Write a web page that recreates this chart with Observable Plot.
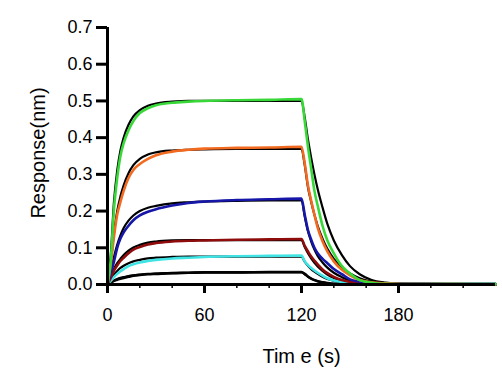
<!DOCTYPE html>
<html>
<head>
<meta charset="utf-8">
<script src="https://cdn.jsdelivr.net/npm/d3@7"></script>
<script src="https://cdn.jsdelivr.net/npm/@observablehq/plot@0.6"></script>
<style>
  html, body { margin: 0; padding: 0; background: #fff; }
  #chart { width: 502px; height: 376px; }
</style>
</head>
<body>
<div id="chart"></div>
<script>
// Time points (s)
const time = [0, 2, 4, 6, 8, 10, 13, 16, 20, 25, 30, 40, 50, 60, 80, 100, 120,
  122, 124, 126, 128, 130, 133, 136, 140, 145, 150, 156, 163, 172, 185, 210, 240];

// Measured responses (nm)
const greenData = [0, 0.065, 0.205, 0.29, 0.35, 0.385, 0.42, 0.445, 0.467, 0.48, 0.488, 0.495, 0.498, 0.5, 0.502, 0.503, 0.505,
  0.445, 0.375, 0.315, 0.255, 0.215, 0.16, 0.12, 0.085, 0.05, 0.03, 0.012, 0.005, 0.002, 0.001, 0.001, 0.001];
const orangeData = [0, 0.055, 0.13, 0.19, 0.225, 0.255, 0.29, 0.312, 0.328, 0.342, 0.352, 0.362, 0.367, 0.37, 0.372, 0.373, 0.375,
  0.33, 0.27, 0.228, 0.19, 0.155, 0.118, 0.09, 0.063, 0.04, 0.025, 0.012, 0.006, 0.003, 0.001, 0.001, 0];
const blueData = [0, 0.03, 0.062, 0.1, 0.125, 0.142, 0.16, 0.175, 0.188, 0.198, 0.205, 0.215, 0.222, 0.226, 0.23, 0.232, 0.234,
  0.19, 0.148, 0.122, 0.1, 0.085, 0.07, 0.058, 0.042, 0.028, 0.014, 0.008, 0.004, 0.002, 0.002, 0.001, 0.001];
const redData = [0, 0.018, 0.038, 0.052, 0.064, 0.073, 0.085, 0.095, 0.102, 0.109, 0.113, 0.117, 0.119, 0.12, 0.122, 0.123, 0.124,
  0.105, 0.09, 0.076, 0.065, 0.055, 0.041, 0.031, 0.021, 0.012, 0.007, 0.005, 0.004, 0.003, 0.002, 0.001, 0.001];
const cyanData = [0, 0.01, 0.02, 0.029, 0.036, 0.042, 0.05, 0.055, 0.06, 0.064, 0.067, 0.071, 0.073, 0.075, 0.077, 0.078, 0.079,
  0.063, 0.053, 0.045, 0.038, 0.032, 0.024, 0.017, 0.011, 0.007, 0.005, 0.003, 0.002, 0.002, 0.002, 0.002, 0.002];
const lowData = [0, 0.005, 0.01, 0.013, 0.016, 0.018, 0.021, 0.024, 0.026, 0.028, 0.029, 0.031, 0.032, 0.033, 0.033, 0.034, 0.034,
  0.029, 0.022, 0.016, 0.012, 0.009, 0.006, 0.004, 0.002, 0.001, 0.001, 0, 0, 0, 0, 0, 0];

// Fitted curves (nm)
const greenFit = [0, 0.08, 0.225, 0.31, 0.365, 0.4, 0.435, 0.458, 0.475, 0.487, 0.493, 0.498, 0.5, 0.5, 0.5, 0.5, 0.5,
  0.455, 0.395, 0.345, 0.3, 0.26, 0.21, 0.165, 0.12, 0.08, 0.05, 0.028, 0.013, 0.005, 0.001, 0, 0];
const orangeFit = [0, 0.06, 0.14, 0.2, 0.24, 0.27, 0.303, 0.325, 0.342, 0.354, 0.36, 0.365, 0.367, 0.368, 0.369, 0.369, 0.369,
  0.325, 0.265, 0.225, 0.19, 0.16, 0.125, 0.097, 0.07, 0.046, 0.03, 0.017, 0.008, 0.003, 0.001, 0, 0];
const blueFit = [0, 0.038, 0.075, 0.108, 0.134, 0.154, 0.174, 0.188, 0.2, 0.209, 0.214, 0.221, 0.224, 0.226, 0.228, 0.229, 0.229,
  0.185, 0.145, 0.117, 0.095, 0.078, 0.06, 0.046, 0.032, 0.02, 0.011, 0.005, 0.002, 0.001, 0, 0, 0];
const redFit = [0, 0.022, 0.042, 0.058, 0.07, 0.08, 0.092, 0.101, 0.108, 0.114, 0.117, 0.12, 0.121, 0.121, 0.121, 0.121, 0.121,
  0.102, 0.085, 0.071, 0.059, 0.049, 0.037, 0.027, 0.018, 0.011, 0.006, 0.003, 0.001, 0, 0, 0, 0];
const cyanFit = [0, 0.014, 0.027, 0.037, 0.045, 0.051, 0.058, 0.063, 0.067, 0.071, 0.073, 0.075, 0.076, 0.076, 0.076, 0.076, 0.076,
  0.062, 0.051, 0.042, 0.035, 0.029, 0.021, 0.015, 0.01, 0.006, 0.003, 0.001, 0, 0, 0, 0, 0];
const lowFit = [0, 0.006, 0.011, 0.015, 0.018, 0.02, 0.023, 0.025, 0.027, 0.029, 0.03, 0.031, 0.032, 0.033, 0.033, 0.033, 0.033,
  0.028, 0.021, 0.016, 0.012, 0.009, 0.006, 0.004, 0.002, 0.001, 0, 0, 0, 0, 0, 0, 0];

// Axis ticks
const xTicks = [0, 60, 120, 180];
const xMinorTicks = [20, 40, 80, 100, 140, 160, 200, 220];
const yTicks = [0, 0.1, 0.2, 0.3, 0.4, 0.5, 0.6, 0.7];

const seriesNames = ["green", "orange", "blue", "red", "cyan", "low"];
const seriesData = [greenData, orangeData, blueData, redData, cyanData, lowData];
const seriesFit = [greenFit, orangeFit, blueFit, redFit, cyanFit, lowFit];
const seriesColors = ["#39d839", "#f26a1f", "#1616a8", "#8e0c0c", "#3fe3e3", "#000000"];

const toRows = (vals) => time.map((t, i) => ({t, v: vals[i]}));

const font = "'Liberation Sans', Arial, sans-serif";
const marks = [];
for (let s = seriesNames.length - 1; s >= 0; s--) {
  marks.push(Plot.line(toRows(seriesFit[s]), {x: "t", y: "v", stroke: "#000", strokeWidth: 2.2, curve: "monotone-x"}));
}
for (let s = seriesNames.length - 1; s >= 0; s--) {
  marks.push(Plot.line(toRows(seriesData[s]), {x: "t", y: "v", stroke: seriesColors[s], strokeWidth: 2.6, curve: "monotone-x"}));
}

const chart = Plot.plot({
  width: 502,
  height: 376,
  marginLeft: 107,
  marginRight: 7,
  marginTop: 27,
  marginBottom: 92,
  style: {fontFamily: font, background: "#fff", color: "#000"},
  x: {domain: [0, 240]},
  y: {domain: [0, 0.7]},
  marks: [
    ...marks,
    Plot.ruleX([0], {y1: 0, y2: 0.7, stroke: "#000", strokeWidth: 3}),
    Plot.ruleY([0], {x1: 0, x2: 240, stroke: "#000", strokeWidth: 3}),
    Plot.axisY({ticks: yTicks, tickFormat: d3.format(".1f"), tickSize: 11, tickPadding: 4,
      strokeWidth: 3, fontSize: 18, fill: "#000", label: null}),
    Plot.axisX({ticks: xTicks, tickFormat: d => String(d), tickSize: 9, tickPadding: 15,
      strokeWidth: 3, fontSize: 18, fill: "#000", label: null}),
    Plot.axisX({ticks: xMinorTicks, tickSize: 4, strokeWidth: 1.5, text: null, label: null}),
    Plot.text(["Response(nm)"], {frameAnchor: "left", dx: -69, rotate: -90, fontSize: 20,
      fill: "#000", textAnchor: "middle", lineAnchor: "middle", dy: -3, letterSpacing: 1.5}),
    Plot.text(["Tim e (s)"], {frameAnchor: "bottom", dy: 72, fontSize: 20, fill: "#000",
      textAnchor: "middle", lineAnchor: "middle"})
  ]
});
document.getElementById("chart").appendChild(chart);
</script>
</body>
</html>
